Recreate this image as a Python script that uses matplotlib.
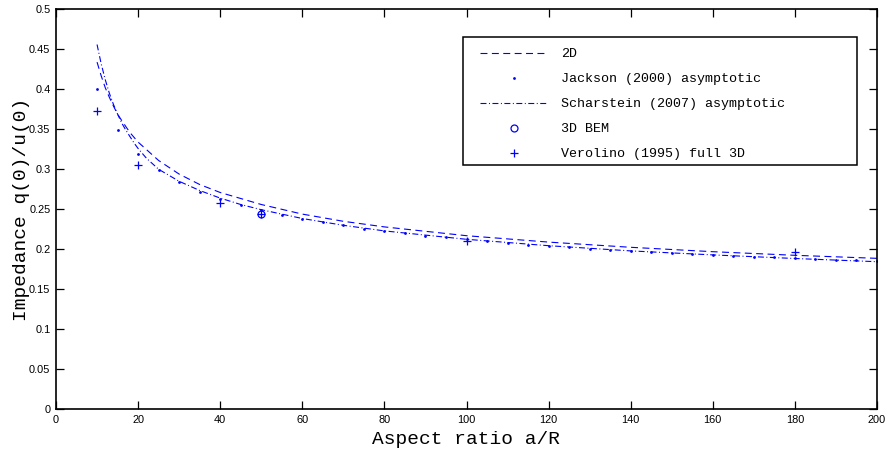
import numpy as np
import matplotlib.pyplot as plt
from matplotlib.patches import Rectangle
from matplotlib.ticker import FormatStrFormatter

plt.rcParams['lines.scale_dashes'] = False

# 2D solution (dashed)
x_2d = [10, 11, 12, 13, 14, 15, 16, 18, 20, 25, 30, 35, 40, 50, 60, 70, 80, 100, 120, 140, 160, 180, 200]
y_2d = [0.434, 0.417, 0.402, 0.390, 0.379, 0.369, 0.361, 0.346, 0.334, 0.311, 0.294, 0.281, 0.271,
        0.256, 0.244, 0.235, 0.228, 0.217, 0.209, 0.2025, 0.197, 0.1925, 0.1887]

# Jackson (2000) asymptotic (dots)
x_jack = np.arange(10, 205, 5)
y_jack = [0.400, 0.349, 0.319, 0.299, 0.284, 0.272, 0.263, 0.255, 0.249, 0.243,
          0.238, 0.234, 0.230, 0.226, 0.223, 0.220, 0.217, 0.215, 0.2125, 0.210,
          0.208, 0.206, 0.2046, 0.203, 0.201, 0.1995, 0.198, 0.197, 0.1955, 0.1944,
          0.1932, 0.1921, 0.191, 0.1899, 0.1889, 0.188, 0.187, 0.1861, 0.1852]

# Scharstein (2007) asymptotic (dash-dot)
x_sch = [10, 11, 12, 13, 14, 15, 16, 17, 18, 19, 20, 22, 25, 30, 35, 40, 45, 50, 60, 70, 80,
         100, 120, 140, 160, 180, 200]
y_sch = [0.456, 0.432, 0.412, 0.395, 0.381, 0.369, 0.358, 0.349, 0.341, 0.333, 0.326, 0.314,
         0.300, 0.285, 0.2735, 0.264, 0.256, 0.2495, 0.2385, 0.230, 0.223, 0.2125, 0.2045,
         0.198, 0.193, 0.1885, 0.1845]

# 3D BEM
x_bem = [50]
y_bem = [0.2437]

# Verolino (1995) full 3D
x_ver = [10, 20, 40, 50, 100, 180]
y_ver = [0.3725, 0.3055, 0.2575, 0.244, 0.2108, 0.197]

labels = ['2D', 'Jackson (2000) asymptotic', 'Scharstein (2007) asymptotic',
          '3D BEM', 'Verolino (1995) full 3D']

fig = plt.figure(figsize=(8.89, 4.55), dpi=100)
ax = fig.add_axes([56 / 889, 1 - 409.3 / 455, 821 / 889, 400 / 455])

h1, = ax.plot(x_2d, y_2d, color='b', lw=0.8, dashes=(5, 3.2))
h2, = ax.plot(x_jack, y_jack, 'o', color='b', ms=2, mew=0)
h3, = ax.plot(x_sch, y_sch, color='b', lw=0.8, dashes=(4.3, 1.8, 0.7, 1.8))
h4, = ax.plot(x_bem, y_bem, 'o', color='b', ms=5, mfc='none', mew=0.9)
h5, = ax.plot(x_ver, y_ver, '+', color='b', ms=6, mew=0.9)

ax.set_xlim(0, 200)
ax.set_ylim(0, 0.5)
ax.set_xticks(np.arange(0, 201, 20))
ax.set_yticks(np.arange(0, 0.501, 0.05))
ax.yaxis.set_major_formatter(FormatStrFormatter('%g'))
ax.tick_params(direction='in', length=5.5, width=0.9, top=True, right=True,
               labelsize=7.9, pad=4)
for lab in ax.get_xticklabels() + ax.get_yticklabels():
    lab.set_family('Liberation Sans')
for s in ax.spines.values():
    s.set_linewidth(1.2)

ax.set_xlabel('Aspect ratio a/R', family='Liberation Mono', fontsize=14)
ax.set_ylabel('Impedance q(0)/u(0)', family='Liberation Mono', fontsize=14)
ax.xaxis.set_label_coords(0.5, -0.055)
ax.yaxis.set_label_coords(-0.032, 0.5)

# legend box drawn separately (MATLAB style with extra room on the right)
fig.patches.append(Rectangle((463 / 889, 1 - 165 / 455), 394 / 889, 128 / 455,
                             transform=fig.transFigure, fill=True, fc='white',
                             ec='black', lw=1.1, zorder=5))
leg = fig.legend([h1, h2, h3, h4, h5], labels, loc='upper left',
                 bbox_to_anchor=(480 / 889, 1 - 48 / 455), frameon=False,
                 borderpad=0, borderaxespad=0, handlelength=5.1, handletextpad=1.0,
                 labelspacing=0.95, numpoints=1, prop={'family': 'Liberation Mono', 'size': 9.6})
leg.set_zorder(6)

fig.savefig('out.png', dpi=100)
